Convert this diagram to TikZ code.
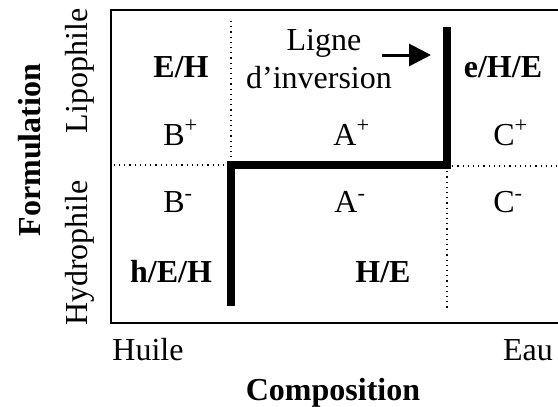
\documentclass[tikz,border=0pt]{standalone}
\usepackage{fontspec}
\setmainfont{Liberation Serif}
\usetikzlibrary{
arrows.meta
}

\begin{document}
\begin{tikzpicture}[
    x=0.5pt, y=-0.5pt,
    >={Triangle[length=11pt,width=11pt]},
    lab/.style={inner sep=0pt, font=\fontsize{16}{19}\selectfont},
    cell/.style={lab, font=\fontsize{16}{19}\selectfont\bfseries},
    frame/.style={line width=1pt},
    sep/.style={line width=0.6pt, dotted},
    inv/.style={line width=3.6pt, line cap=butt, line join=miter}
  ]
  \useasboundingbox (0,0) rectangle (558,407);
  % cadre et separations
  \draw[frame] (560,10) -| (111,323) -- (560,323);
  \draw[sep] (231,21) -- (231,165) -- (111,165);
  \draw[sep] (447,166) -- (560,166);
  \draw[sep] (447,166) -- (447,310);
  % ligne d'inversion
  \draw[inv] (231,306) -- (231,165) -- (447,165) -- (447,27);

  % zones
  \node[cell, anchor=base] (EH)  at (181,77)  {E/H};
  \node[cell, anchor=base] (eHE) at (503,77)  {e/H/E};
  \node[cell, anchor=base] (hEH) at (171,282) {h/E/H};
  \node[cell, anchor=base] (HE)  at (383,282) {H/E};
  \node[lab, anchor=base west] (Bp) at (163,145) {B\textsuperscript{+}};
  \node[lab, anchor=base west] (Ap) at (333,145) {A\textsuperscript{+}};
  \node[lab, anchor=base west] (Cp) at (493,145) {C\textsuperscript{+}};
  \node[lab, anchor=base west] (Bm) at (163,213) {B\textsuperscript{-}};
  \node[lab, anchor=base west] (Am) at (334,213) {A\textsuperscript{-}};
  \node[lab, anchor=base west] (Cm) at (493,213) {C\textsuperscript{-}};

  \node[lab, anchor=base] (ligne) at (324,50) {Ligne};
  \node[lab, anchor=base] (inversion) at (319,88) {d’inversion};
  \coordinate (flecheA) at (382,55);
  \coordinate (flecheB) at (431,55);
  \draw[->, line width=1.5pt] (flecheA) -- (flecheB);

  % axes
  \node[lab, anchor=base] (huile) at (148,360) {Huile};
  \node[lab, anchor=base] (eau) at (528,360) {Eau};
  \node[lab, anchor=base, font=\fontsize{16}{19}\selectfont\bfseries] (compo) at (333,400) {Composition};
  \node[lab, anchor=base, rotate=90] (lipo) at (87,71) {Lipophile};
  \node[lab, anchor=base, rotate=90] (hydro) at (87,253) {Hydrophile};
  \node[lab, anchor=base, rotate=90, font=\fontsize{16}{19}\selectfont\bfseries] (formu) at (40,150) {Formulation};
\end{tikzpicture}
\end{document}
